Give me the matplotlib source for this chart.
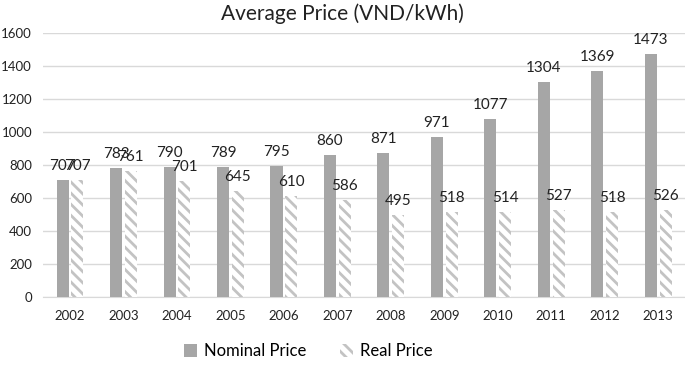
import numpy as np
import matplotlib.pyplot as plt

years = ['2002', '2003', '2004', '2005', '2006', '2007', '2008', '2009', '2010', '2011', '2012', '2013']
nominal = [707, 783, 790, 789, 795, 860, 871, 971, 1077, 1304, 1369, 1473]
real = [707, 761, 701, 645, 610, 586, 495, 518, 514, 527, 518, 526]

plt.rcParams['font.family'] = ['Lato', 'DejaVu Sans']
plt.rcParams['hatch.linewidth'] = 2.0

fig = plt.figure(figsize=(6.85, 3.65), dpi=100)
ax = fig.add_axes([0.063, 0.186, 0.937, 0.724])

x = np.arange(len(years))
w = 0.225
gap = 0.05
b1 = ax.bar(x - (w + gap) / 2, nominal, w, color='#a6a6a6', label='Nominal Price', zorder=3)
b2 = ax.bar(x + (w + gap) / 2, real, w, color='white', edgecolor='#c3c3c3',
            hatch='\\\\\\', linewidth=0, label='Real Price', zorder=3)

# value labels
for bars, vals in ((b1, nominal), (b2, real)):
    for r, v in zip(bars, vals):
        ax.annotate(str(v), (r.get_x() + r.get_width() / 2, v), xytext=(0, 5),
                    textcoords='offset points', ha='center', va='bottom',
                    fontsize=11, color='#222222')

ax.set_xlim(-0.5, len(years) - 0.5)
ax.set_ylim(0, 1600)
ax.set_yticks(range(0, 1601, 200))
ax.set_xticks(x)
ax.set_xticklabels(years)
ax.tick_params(axis='both', length=0, labelsize=9.5, colors='#222222')
ax.tick_params(axis='x', pad=9)
ax.tick_params(axis='y', pad=8)
ax.grid(axis='y', color='#d9d9d9', linewidth=1, zorder=0)
for s in ['top', 'right', 'left']:
    ax.spines[s].set_visible(False)
ax.spines['bottom'].set_color('#d9d9d9')

fig.suptitle('Average Price (VND/kWh)', x=0.5, y=0.99, fontsize=15, color='#222222')
fig.legend(loc='lower center', bbox_to_anchor=(0.45, -0.025), ncol=2, frameon=False,
           fontsize=12, handlelength=0.8, handleheight=0.8, columnspacing=2.0, handletextpad=0.4)

plt.savefig('out.png', dpi=100)
